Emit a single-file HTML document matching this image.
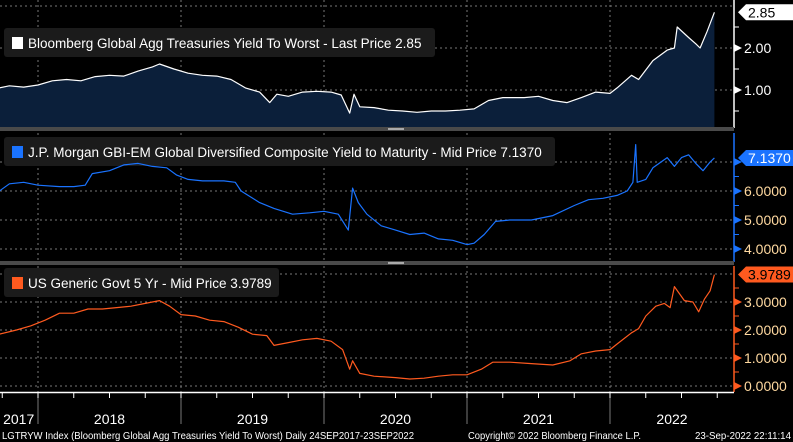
<!DOCTYPE html>
<html><head><meta charset="utf-8">
<style>
html,body{margin:0;padding:0;background:#000;}
body{width:793px;height:442px;overflow:hidden;font-family:"Liberation Sans",sans-serif;}
svg{display:block}
text{font-family:"Liberation Sans",sans-serif;}
</style></head>
<body>
<svg id="chart" width="793" height="442" viewBox="0 0 793 442" xmlns="http://www.w3.org/2000/svg">
</svg>
<script>
// ---- data ----
const yearLabels = ["2017","2018","2019","2020","2021","2022"];
const yearStarts = [2018,2019,2020,2021,2022];

const aggDates = [2017.73,2017.8,2017.9,2018.0,2018.1,2018.2,2018.3,2018.4,2018.5,2018.6,2018.7,2018.8,2018.85,2018.95,2019.05,2019.15,2019.25,2019.35,2019.45,2019.55,2019.62,2019.67,2019.75,2019.85,2019.95,2020.05,2020.12,2020.18,2020.21,2020.25,2020.35,2020.45,2020.55,2020.65,2020.75,2020.85,2020.95,2021.05,2021.15,2021.25,2021.4,2021.5,2021.6,2021.7,2021.8,2021.9,2022.0,2022.05,2022.15,2022.2,2022.3,2022.4,2022.45,2022.47,2022.55,2022.6,2022.63,2022.68,2022.73];
const aggValues = [1.05,1.10,1.07,1.12,1.22,1.25,1.22,1.32,1.35,1.33,1.45,1.55,1.62,1.50,1.40,1.35,1.33,1.25,1.05,0.95,0.70,0.90,0.85,0.95,0.97,0.95,0.88,0.45,0.90,0.60,0.58,0.52,0.50,0.47,0.50,0.50,0.52,0.55,0.75,0.82,0.82,0.85,0.75,0.70,0.82,0.95,0.92,1.05,1.35,1.25,1.70,1.95,2.00,2.50,2.25,2.10,2.00,2.40,2.85];
const aggTicks = [1,2];
const aggTickLabels = ["1.00","2.00"];
const aggLast = "2.85";

const emDates = [2017.73,2017.8,2017.9,2018.0,2018.15,2018.25,2018.33,2018.38,2018.5,2018.6,2018.7,2018.8,2018.9,2018.97,2019.05,2019.15,2019.3,2019.38,2019.42,2019.55,2019.65,2019.78,2019.9,2020.0,2020.1,2020.17,2020.2,2020.24,2020.3,2020.4,2020.5,2020.6,2020.7,2020.8,2020.9,2021.0,2021.05,2021.12,2021.2,2021.3,2021.45,2021.6,2021.75,2021.85,2021.95,2022.05,2022.12,2022.16,2022.18,2022.19,2022.25,2022.3,2022.4,2022.45,2022.5,2022.55,2022.6,2022.65,2022.7,2022.73];
const emValues = [6.0,6.25,6.3,6.2,6.15,6.15,6.2,6.6,6.7,6.9,6.95,6.85,6.8,6.55,6.4,6.35,6.35,6.3,6.0,5.6,5.4,5.2,5.25,5.3,5.2,4.65,6.1,5.6,5.2,4.8,4.65,4.5,4.55,4.35,4.3,4.15,4.2,4.5,4.95,5.0,5.0,5.15,5.5,5.7,5.75,5.85,6.0,6.3,7.6,6.3,6.4,6.8,7.15,6.85,7.15,7.25,6.95,6.7,7.0,7.14];
const emTicks = [4,5,6,7];
const emTickLabels = ["4.0000","5.0000","6.0000",""];
const emLast = "7.1370";

const usDates = [2017.73,2017.85,2017.95,2018.05,2018.15,2018.25,2018.35,2018.45,2018.55,2018.65,2018.75,2018.85,2018.92,2019.0,2019.1,2019.2,2019.3,2019.4,2019.5,2019.6,2019.65,2019.75,2019.85,2019.95,2020.05,2020.13,2020.18,2020.2,2020.25,2020.35,2020.5,2020.6,2020.7,2020.8,2020.9,2021.0,2021.1,2021.18,2021.3,2021.45,2021.6,2021.72,2021.8,2021.9,2022.0,2022.05,2022.15,2022.2,2022.25,2022.32,2022.38,2022.42,2022.45,2022.52,2022.58,2022.62,2022.66,2022.7,2022.73];
const usValues = [1.85,2.0,2.15,2.35,2.6,2.6,2.75,2.75,2.8,2.85,2.95,3.05,2.85,2.55,2.5,2.35,2.3,2.1,1.85,1.8,1.45,1.55,1.65,1.7,1.6,1.3,0.6,0.9,0.45,0.35,0.3,0.25,0.28,0.35,0.4,0.4,0.6,0.85,0.85,0.8,0.75,0.9,1.15,1.25,1.3,1.5,1.9,2.05,2.5,2.85,2.95,2.8,3.55,3.05,3.0,2.65,3.1,3.4,3.98];
const usTicks = [0,1,2,3];
const usTickLabels = ["0.0000","1.0000","2.0000","3.0000"];
const usLast = "3.9789";

// ---- layout ----
const NS = "http://www.w3.org/2000/svg";
const svg = document.getElementById("chart");
const PLOT_R = 734;
function xOf(t){ return 38 + (t-2018)*143; }
function mk(tag, attrs, parent){
  const e = document.createElementNS(NS, tag);
  for (const k in attrs) e.setAttribute(k, attrs[k]);
  (parent||svg).appendChild(e);
  return e;
}

const panels = [
  {key:"agg", top:0, bot:128, y0:90, slope:42, base:1, color:"#ffffff", axis:"#ffffff", lab:"#ffffff",
   dates:aggDates, vals:aggValues, ticks:aggTicks, tl:aggTickLabels, last:aggLast, grid:[1,2,3], minor:[0.5,1.5,2.5],
   legend:"Bloomberg Global Agg Treasuries Yield To Worst - Last Price 2.85", lw:431, ly:28, lastBg:"#ffffff", lastFg:"#000"},
  {key:"em", top:133, bot:262, y0:191, slope:29, base:6, color:"#1a73ff", axis:"#1a73ff", lab:"#ffd9a0",
   dates:emDates, vals:emValues, ticks:emTicks, tl:emTickLabels, last:emLast, grid:[4,5,6,7], minor:[4.5,5.5,6.5],
   legend:"J.P. Morgan GBI-EM Global Diversified Composite Yield to Maturity - Mid Price 7.1370", lw:551, ly:137, lastBg:"#1a73ff", lastFg:"#fff"},
  {key:"us", top:266, bot:392, y0:386, slope:28, base:0, color:"#ff5a1f", axis:"#ff5a1f", lab:"#ffd9a0",
   dates:usDates, vals:usValues, ticks:usTicks, tl:usTickLabels, last:usLast, grid:[0,1,2,3,4], minor:[0.5,1.5,2.5,3.5],
   legend:"US Generic Govt 5 Yr - Mid Price 3.9789", lw:275, ly:268, lastBg:"#ff5a1f", lastFg:"#000"}
];

panels.forEach(p=>{
  const yOf = v => p.y0 - (v-p.base)*p.slope;
  const g = mk("g",{});
  
  
  yearStarts.forEach(ys=>{
    const l = mk("line",{x1:xOf(ys),x2:xOf(ys),y1:p.top,y2:p.bot,stroke:"#777","stroke-dasharray":"2,3","stroke-width":1},g);
    
    
  });
  p.grid.forEach(v=>{
    const y = yOf(v);
    if (y < p.top+2 || y > p.bot) return;
    const l = mk("line",{x1:0,x2:PLOT_R,y1:y,y2:y,stroke:"#777","stroke-dasharray":"2,3","stroke-width":1},g);
    
    
  });
  // legend (drawn beneath series)
  const lg = mk("rect",{x:4,y:p.ly,width:p.lw,height:29,rx:3,fill:"#1b1b1b"},g);
  
  
  const sw = mk("rect",{x:12,y:p.ly+9,width:11,height:12,fill:p.color},g);
  
  
  const lt = mk("text",{x:28,y:p.ly+20,fill:"#ffffff","font-size":13.5},g);
  lt.textContent = p.legend;
  
  
  // series
  let d = "";
  p.dates.forEach((t,i)=>{ d += (i?"L":"M")+xOf(t).toFixed(1)+","+yOf(p.vals[i]).toFixed(1); });
  if (p.key==="agg"){
    const n = p.dates.length;
    const a = mk("path",{d:d+"L"+xOf(p.dates[n-1]).toFixed(1)+","+p.bot+"L0,"+p.bot+"Z",fill:"#0b1f3a"},g);
    
    
  }
  const ln = mk("path",{d:d,fill:"none",stroke:p.color,"stroke-width":1.2,"stroke-linejoin":"round"},g);
  
  
  // axis
  const ax = mk("line",{x1:PLOT_R,x2:PLOT_R,y1:p.top,y2:p.bot,stroke:p.axis,"stroke-width":1.5},g);
  
  
  p.minor.forEach(v=>{
    const y = yOf(v); if (y<p.top||y>p.bot) return;
    const m = mk("line",{x1:PLOT_R,x2:PLOT_R+5,y1:y,y2:y,stroke:p.axis,"stroke-width":1},g);
    
    
  });
  p.ticks.forEach((v,i)=>{
    const y = yOf(v);
    const tri = mk("path",{d:`M${PLOT_R},${y-4}L${PLOT_R+8},${y}L${PLOT_R},${y+4}Z`,fill:p.axis},g);
    
    
    if (!p.tl[i]) return;
    const tx = mk("text",{x:PLOT_R+10,y:y+5,fill:p.lab,"font-size":14},g);
    tx.textContent = p.tl[i];
    
    
  });
  const lv = p.vals[p.vals.length-1];
  const ly = yOf(lv);
  const bx = mk("path",{d:`M${PLOT_R+4},${ly}L${PLOT_R+12},${ly-8}L793,${ly-8}L793,${ly+8}L${PLOT_R+12},${ly+8}Z`,fill:p.lastBg},g);
  
  
  const bt = mk("text",{x:PLOT_R+14,y:ly+5,fill:p.lastFg,"font-size":14},g);
  bt.textContent = p.last;
  
  
});

[[127,4],[261,4]].forEach(([y,h],i)=>{
  const r = mk("rect",{x:0,y:y,width:PLOT_R,height:h,fill:"#4a4a4a"});
  
  
  const hd = mk("rect",{x:388,y:y+1,width:16,height:2,fill:"#aaa"});
  
  
});

const xa = mk("line",{x1:0,x2:PLOT_R,y1:392.5,y2:392.5,stroke:"#fff","stroke-width":1.5});


for (let q=0; q<21; q++){
  const t = 2017.75 + q*0.25;
  const x = xOf(t);
  if (x<0||x>PLOT_R) continue;
  const tk = mk("line",{x1:x,x2:x,y1:392,y2:398,stroke:"#fff","stroke-width":1});
  
  
}
yearStarts.forEach(ys=>{
  const s = mk("line",{x1:xOf(ys),x2:xOf(ys),y1:398,y2:424,stroke:"#777","stroke-width":1});
  
  
});
const centers = [xOf(2017.73)+ (xOf(2018)-xOf(2017.73))/2];
yearStarts.forEach(ys=>centers.push(Math.min(xOf(ys)+71.5, ys===2022? (xOf(2022)+PLOT_R)/2 : 9999)));
yearLabels.forEach((lab,i)=>{
  const tx = mk("text",{x:centers[i],y:424,fill:"#fff","font-size":14,"text-anchor":"middle"});
  tx.textContent = lab;
  
  
});

const f1 = mk("text",{x:2,y:439,fill:"#fff","font-size":10.5,textLength:412,lengthAdjust:"spacingAndGlyphs"});
f1.textContent = "LGTRYW Index (Bloomberg Global Agg Treasuries Yield To Worst)  Daily 24SEP2017-23SEP2022";


const f2 = mk("text",{x:468,y:439,fill:"#fff","font-size":10.5,textLength:173,lengthAdjust:"spacingAndGlyphs"});
f2.textContent = "Copyright© 2022 Bloomberg Finance L.P.";


const f3 = mk("text",{x:695,y:439,fill:"#fff","font-size":10.5,textLength:96,lengthAdjust:"spacingAndGlyphs"});
f3.textContent = "23-Sep-2022 22:11:14";


</script>
</body></html>
